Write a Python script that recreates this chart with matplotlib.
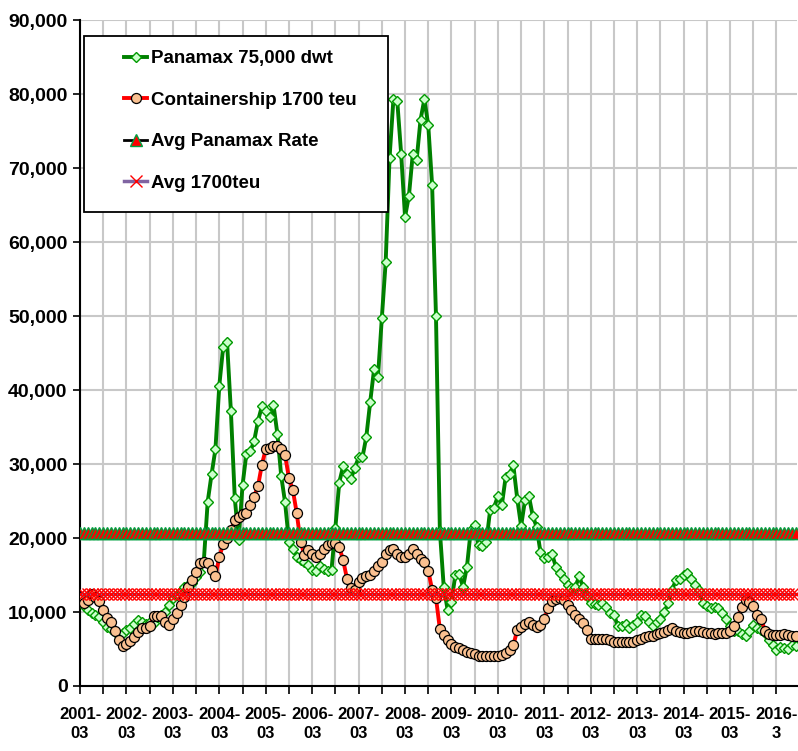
import matplotlib
matplotlib.use("Agg")
import matplotlib.pyplot as plt
import numpy as np
from matplotlib.patches import Rectangle
from matplotlib.ticker import FuncFormatter, MultipleLocator

plt.rcParams['font.family'] = ['Liberation Sans', 'DejaVu Sans']
plt.rcParams['font.weight'] = 'bold'

# monthly values, 2001-03 .. 2016-08
panamax = [
    11300, 10800, 10300, 9800, 9600, 9300, 8700, 8000, 7700, 7300,
    6900, 7100, 7600, 7900, 8400, 8900, 8600, 8400, 8700, 8500,
    9300, 9600, 10000, 11000, 11900, 12300, 12900, 13400, 13600, 13900,
    14700, 15400, 16900, 24900, 28600, 32000, 40600, 45800, 46500, 37100,
    25400, 19700, 27100, 31400, 31700, 33100, 35800, 37800, 37100, 36400,
    38000, 34100, 28400, 24800, 19500, 18500, 17500, 17000, 16800, 16400,
    15700, 15500, 16200, 15800, 15600, 15700, 21400, 27500, 29700, 28600,
    28000, 29400, 30900, 30900, 33700, 38400, 42800, 41700, 49700, 57300,
    71400, 79300, 79000, 71900, 63400, 66200, 71900, 71100, 76500, 79300,
    75800, 67700, 50000, 21000, 13400, 10300, 11400, 15000, 15100, 13400,
    16100, 21100, 21700, 19000, 18900, 19400, 23800, 24100, 25700, 24400,
    28200, 28600, 29800, 25300, 21600, 25100, 25700, 23000, 21500, 18100,
    17300, 17500, 17800, 16100, 15300, 14500, 13700, 13200, 13400, 14800,
    13400, 12100, 11200, 11100, 11000, 11200, 10700, 9800, 9600, 8100,
    8100, 8400, 7800, 8200, 8700, 9600, 9400, 8700, 8100, 8600,
    9100, 10000, 11200, 13000, 14300, 14400, 15000, 15300, 14500, 13600,
    13000, 11200, 10800, 10600, 10700, 10500, 9800, 9100, 8100, 7500,
    7400, 7000, 6700, 7400, 8200, 7800, 7600, 7100, 6200, 5500,
    4900, 5300, 5100, 4950, 5500, 5400,
]

container = [
    12000, 11200, 11600, 12400, 12000, 11500, 10300, 9200, 8700, 7400,
    6200, 5400, 5700, 6100, 6600, 7300, 7800, 7800, 8100, 9400,
    9500, 9400, 8700, 8200, 9000, 9900, 10900, 12000, 13400, 14300,
    15400, 16600, 16800, 16600, 15700, 14900, 17400, 19200, 20000, 21100,
    22400, 22900, 23200, 23400, 24400, 25600, 27000, 29900, 32000, 32100,
    32400, 32400, 32000, 31200, 28100, 26500, 23400, 19500, 17700, 18400,
    17900, 17500, 17800, 18500, 19000, 19300, 19300, 18800, 17000, 14500,
    13300, 13000, 14100, 14600, 14900, 15000, 15600, 16200, 16700, 17800,
    18400, 18500, 17800, 17400, 17500, 17900, 18500, 17800, 17200, 16700,
    15600, 13000, 11900, 7700, 6900, 6200, 5700, 5300, 5100, 4900,
    4600, 4400, 4300, 4100, 4000, 4000, 4000, 4000, 4100, 4200,
    4400, 4900, 5500, 7600, 8000, 8400, 8700, 8200, 8000, 8200,
    9100, 10500, 11500, 11800, 11900, 11600, 11000, 10300, 9600, 9000,
    8500, 7600, 6400, 6300, 6300, 6300, 6300, 6200, 6000, 5900,
    5900, 5900, 5900, 6000, 6200, 6400, 6600, 6700, 6800, 7000,
    7200, 7300, 7600, 7800, 7500, 7300, 7200, 7100, 7300, 7400,
    7500, 7300, 7200, 7100, 7000, 7100, 7200, 7200, 7500, 8100,
    9300, 10700, 11600, 11400, 10800, 9600, 9100, 7500, 7000, 6900,
    6900, 6900, 7000, 6900, 6750, 6700,
]

avg_panamax = 20700
avg_1700teu = 12500

year_labels = ["2001-\n03", "2002-\n03", "2003-\n03", "2004-\n03", "2005-\n03",
               "2006-\n03", "2007-\n03", "2008-\n03", "2009-\n03", "2010-\n03",
               "2011-\n03", "2012-\n03", "2013-\n03", "2014-\n03", "2015-\n03",
               "2016-\n3"]

x = np.arange(len(panamax))

W, H = 798, 751
fig = plt.figure(figsize=(W / 100, H / 100), dpi=100)
# plot area in pixels: left 80, right 797, top 20, bottom 686
AX_L, AX_T, AX_W, AX_H = 80, 20, 717, 666
ax = fig.add_axes([AX_L / W, 1 - (AX_T + AX_H) / H, AX_W / W, AX_H / H])

ax.plot(x, panamax, color="#008000", lw=2.8, marker="D", ms=5.3,
        mfc="#ccffcc", mec="#009900", mew=1, label="Panamax 75,000 dwt", zorder=3)
ax.plot(x, container, color="#ff0000", lw=2.8, marker="o", ms=7.2,
        mfc="#fac090", mec="#000000", mew=0.9, label="Containership 1700 teu", zorder=4)
ax.plot(x, [avg_panamax] * len(x), color="#000000", lw=2, marker="^", ms=9,
        mfc="#ff0000", mec="#00a040", mew=1, label="Avg Panamax Rate", zorder=5)
ax.plot(x, [avg_1700teu] * len(x), color="#8064a2", lw=2.5, marker="x", ms=9,
        mec="#ff0000", mew=1, label="Avg 1700teu", zorder=6)

ax.set_xlim(0, 185.3)
ax.set_ylim(0, 90000)
ax.yaxis.set_major_locator(MultipleLocator(10000))
ax.yaxis.set_major_formatter(FuncFormatter(lambda v, p: f"{int(v):,}"))

ax.set_xticks(np.arange(0, 181, 12))
ax.set_xticklabels(year_labels, linespacing=1.38)
ax.set_xticks(np.arange(6, 186, 12), minor=True)

ax.grid(True, which="both", color="#c8c8c8", lw=1.5, zorder=0)
ax.set_axisbelow(True)
for s in ["top", "right"]:
    ax.spines[s].set_visible(False)
ax.spines["left"].set_linewidth(1.5)
ax.spines["bottom"].set_linewidth(1.5)

ax.tick_params(axis="x", which="both", length=6, width=1.2, direction="out")
ax.tick_params(axis="x", labelsize=12, pad=9)
ax.tick_params(axis="y", length=5, width=1.2, labelsize=14, pad=4)
for t in ax.get_xticklabels() + ax.get_yticklabels():
    t.set_fontweight("bold")


def px_to_ax(px, py):
    return (px - AX_L) / AX_W, 1 - (py - AX_T) / AX_H


# legend box: x 84..388, y 36..212 (pixels)
bx0, by0 = px_to_ax(84, 212)
bx1, by1 = px_to_ax(388, 36)
ax.add_patch(Rectangle((bx0, by0), bx1 - bx0, by1 - by0, transform=ax.transAxes,
                       facecolor="white", edgecolor="black", lw=1.3, zorder=7,
                       clip_on=False))

lx, ly = px_to_ax(124, 50)
leg = ax.legend(loc="upper left", bbox_to_anchor=(lx, ly),
                frameon=False, prop={"size": 13.5, "weight": "bold"}, numpoints=1,
                handlelength=1.25, labelspacing=1.3, borderpad=0,
                handletextpad=0.2, borderaxespad=0)
leg.set_zorder(8)

plt.savefig("out.png", dpi=100)
plt.close()
